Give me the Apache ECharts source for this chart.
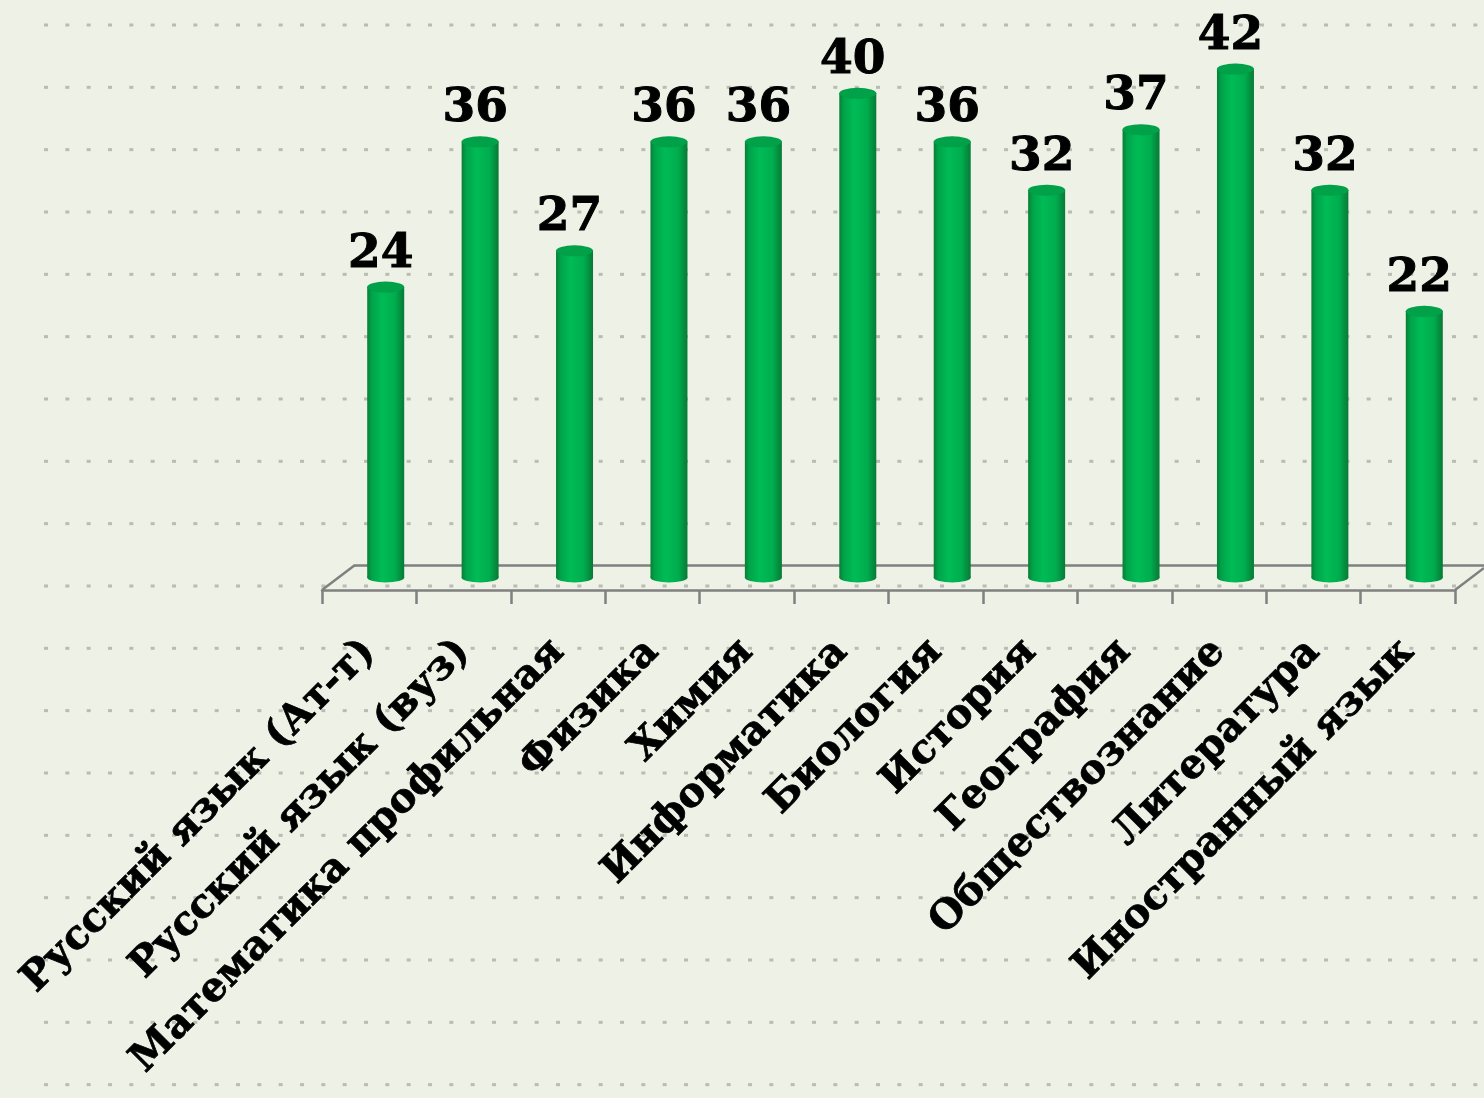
<!DOCTYPE html>
<html>
<head>
<meta charset="utf-8">
<script src="https://cdn.jsdelivr.net/npm/echarts@6/dist/echarts.min.js"></script>
<style>
  html, body { margin: 0; padding: 0; background: #eef2e6; }
  #main { width: 1484px; height: 1098px; }
</style>
</head>
<body>
<div id="main"></div>
<script>
const subjects = ['Русский язык (Ат-т)', 'Русский язык (вуз)', 'Математика профильная', 'Физика', 'Химия',
    'Информатика', 'Биология', 'История', 'География', 'Обществознание', 'Литература', 'Иностранный язык'];
const scores = [24, 36, 27, 36, 36, 40, 36, 32, 37, 42, 32, 22];

const FONT = '"DejaVu Serif", serif';

// dotted slide background
const makeDots = () => {
    var c = document.createElement('canvas');
    c.width = 64;
    c.height = 374;
    var ctx = c.getContext('2d');
    ctx.fillStyle = '#b9bcb2';
    for (var r = 0; r < 6; r++) {
        for (var k = 0; k < 3; k++) {
            ctx.fillRect(1 + k * 21.33, 23.5 + r * 62.33, 4, 3);
        }
    }
    return c;
}

const barColor = new echarts.graphic.LinearGradient(0, 0, 1, 0, [
    { offset: 0, color: '#0a7d37' },
    { offset: 0.12, color: '#00a349' },
    { offset: 0.4, color: '#00bb56' },
    { offset: 0.75, color: '#00ad4e' },
    { offset: 1, color: '#077a36' }
]);

var chart = echarts.init(document.getElementById('main'));

var option = {
    backgroundColor: '#eef2e6',
    animation: false,
    graphic: [
        { type: 'rect', x: 43, y: 0, z: -10, silent: true,
          shape: { x: 0, y: 0, width: 1441, height: 1098 },
          style: { fill: { image: makeDots(), repeat: 'repeat' } } },
        { type: 'line', z: 5, silent: true, shape: { x1: 322, y1: 590, x2: 355, y2: 565 },
          style: { stroke: '#808080', lineWidth: 2.5 } },
        { type: 'line', z: 5, silent: true, shape: { x1: 1455, y1: 590, x2: 1484, y2: 568 },
          style: { stroke: '#808080', lineWidth: 2.5 } }
    ],
    grid: [
        { left: 338.5, right: 12.5, top: 32.5, bottom: 520.5 },
        { left: 322, right: 29, top: 32.5, bottom: 508 },
        { left: 355, right: 0, top: 32.5, bottom: 533 }
    ],
    xAxis: [
        { type: 'category', gridIndex: 0, data: subjects, axisLine: { show: false },
          axisTick: { show: false }, axisLabel: { show: false } },
        { type: 'category', gridIndex: 1, data: subjects,
          axisLine: { show: true, lineStyle: { color: '#808080', width: 2.5 } },
          axisTick: { show: true, length: 14, lineStyle: { color: '#808080', width: 2.5 } },
          axisLabel: { rotate: 45, margin: 56, interval: 0, color: '#000',
                       fontFamily: FONT, fontWeight: 'bold', fontSize: 40,
                       textBorderColor: '#000', textBorderWidth: 0.8 } },
        { type: 'category', gridIndex: 2, data: subjects,
          axisLine: { show: true, lineStyle: { color: '#808080', width: 2.5 } },
          axisTick: { show: false }, axisLabel: { show: false } }
    ],
    yAxis: [
        { type: 'value', gridIndex: 0, min: 0, max: 45, show: false },
        { type: 'value', gridIndex: 1, show: false },
        { type: 'value', gridIndex: 2, show: false }
    ],
    series: [
        {
            type: 'bar', data: scores, barWidth: 37, z: 3,
            itemStyle: { color: barColor },
            label: { show: true, position: 'top', distance: 9, offset: [-5, 0], color: '#000',
                     fontFamily: FONT, fontWeight: 'bold', fontSize: 47,
                     textBorderColor: '#000', textBorderWidth: 1 }
        },
        {
            type: 'pictorialBar', data: scores, symbol: 'circle', symbolSize: [37, 10],
            symbolPosition: 'start', symbolOffset: [0, '50%'], z: 2,
            itemStyle: { color: barColor }
        },
        {
            type: 'pictorialBar', data: scores, symbol: 'circle', symbolSize: [37, 11],
            symbolPosition: 'end', symbolOffset: [0, '-50%'], z: 4,
            itemStyle: { color: '#00a148', borderColor: '#08863b', borderWidth: 1 }
        }
    ]
};

chart.setOption(option);
</script>
</body>
</html>
